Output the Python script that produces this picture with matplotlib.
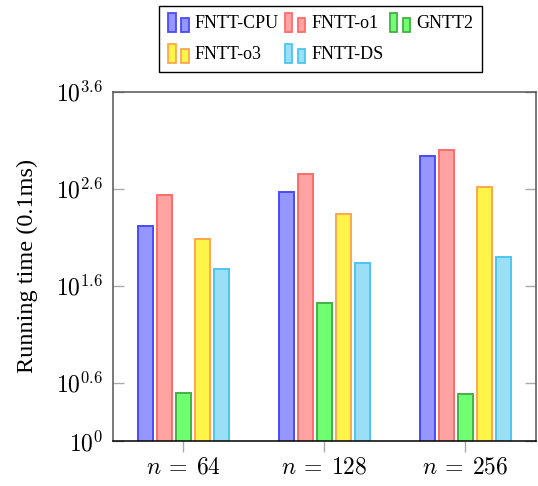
import numpy as np
import matplotlib
matplotlib.use("Agg")
from matplotlib import pyplot as plt
from matplotlib.patches import Rectangle
from matplotlib.legend_handler import HandlerBase

plt.rcParams['font.family'] = 'Liberation Serif'
plt.rcParams['mathtext.fontset'] = 'cm'

groups = [r"$n\:=\:64$", r"$n\:=\:128$", r"$n\:=\:256$"]
series = ["FNTT-CPU", "FNTT-o1", "GNTT2", "FNTT-o3", "FNTT-DS"]

# running time in units of 0.1 ms
fntt_cpu = [166, 372, 871]
fntt_o1 = [347, 570, 1000]
gntt2 = [3.16, 26.3, 3.05]
fntt_o3 = [122, 219, 417]
fntt_ds = [60, 69, 79]

fills = ["#9696ff", "#ffa3a3", "#70ff70", "#fff44a", "#9adff5"]
edges = ["#4a4aff", "#ff6b6b", "#45b045", "#ffa64d", "#4cc6f0"]

yticks = [0, 0.6, 1.6, 2.6, 3.6]


class TwoBars(HandlerBase):
    # little pair of bars like the pgfplots ybar legend image
    def create_artists(self, legend, orig_handle, xdescent, ydescent,
                       width, height, fontsize, trans):
        fc = orig_handle.get_facecolor()
        ec = orig_handle.get_edgecolor()
        w = width * 0.36
        y0 = -ydescent - 0.2 * height
        r1 = Rectangle((-xdescent, y0), w, height * 1.35,
                       facecolor=fc, edgecolor=ec, lw=1.3, transform=trans)
        r2 = Rectangle((-xdescent + width - w, y0), w, height * 1.0,
                       facecolor=fc, edgecolor=ec, lw=1.3, transform=trans)
        return [r1, r2]


fig = plt.figure(figsize=(5.38, 4.86), dpi=100)
ax = fig.add_axes([0.210, 0.0926, 0.786, 0.7185])

x = np.arange(len(groups))
pitch = 0.134
width = 0.106
data = [fntt_cpu, fntt_o1, gntt2, fntt_o3, fntt_ds]
bars = []
for i, vals in enumerate(data):
    b = ax.bar(x + (i - 2) * pitch, vals, width,
               color=fills[i], edgecolor=edges[i], linewidth=1.4,
               label=series[i], zorder=2)
    bars.append(b.patches[0])

ax.set_yscale('log')
ax.set_ylim(1, 10 ** 3.6)
ax.set_xlim(-0.5, 2.5)
ax.set_yticks([10 ** t for t in yticks])
ax.set_yticklabels(["$10^{%g}$" % t for t in yticks])
ax.minorticks_off()
ax.set_xticks(x)
ax.set_xticklabels(groups)

ax.tick_params(axis='y', direction='in', length=8, width=1, color='#aaaaaa',
               left=True, right=True, labelsize=17, pad=7)
ax.tick_params(axis='x', direction='out', length=8, width=1, color='#aaaaaa',
               labelsize=17, pad=4)

for s in ['left', 'right', 'top']:
    ax.spines[s].set_color('#555555')
    ax.spines[s].set_linewidth(1.1)
ax.spines['bottom'].set_color('black')
ax.spines['bottom'].set_linewidth(1.1)

ax.set_ylabel("Running time (0.1ms)", fontsize=17.5)
ax.yaxis.set_label_coords(-0.177, 0.5)

# legend filled row by row: reorder for matplotlib's column-major fill
order = [0, 3, 1, 4, 2]
leg = fig.legend([bars[i] for i in order], [series[i] for i in order],
                 ncol=3, loc='upper center', bbox_to_anchor=(0.596, 0.988),
                 borderaxespad=0,
                 fontsize=13, frameon=True, fancybox=False,
                 edgecolor='black', framealpha=1,
                 handler_map={Rectangle: TwoBars()},
                 handlelength=1.12, handleheight=0.85, handletextpad=0.32,
                 columnspacing=0.37, borderpad=0.5, labelspacing=0.75)
leg.get_frame().set_linewidth(1.0)

fig.savefig("out.png", dpi=100)
